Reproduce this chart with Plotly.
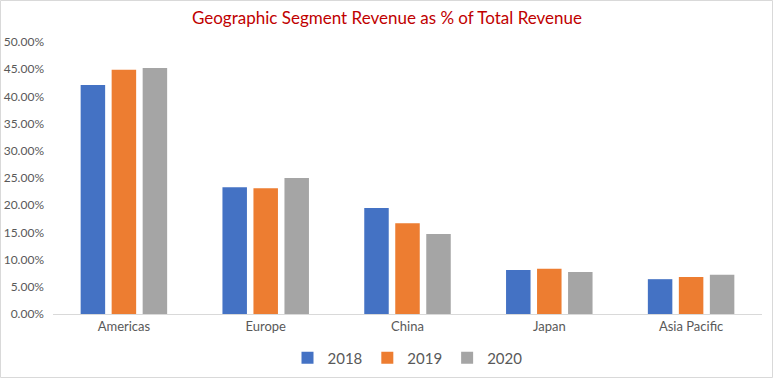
import plotly.graph_objects as go

regions = ["Americas", "Europe", "China", "Japan", "Asia Pacific"]
years = ["2018", "2019", "2020"]
rev_2018 = [0.421, 0.233, 0.195, 0.081, 0.064]
rev_2019 = [0.449, 0.231, 0.167, 0.083, 0.068]
rev_2020 = [0.452, 0.250, 0.147, 0.077, 0.072]
colors = ["#4472C4", "#ED7D31", "#A5A5A5"]

fig = go.Figure()
for name, vals, c in zip(years, [rev_2018, rev_2019, rev_2020], colors):
    fig.add_trace(go.Bar(name=name, x=regions, y=vals, marker=dict(color=c, line=dict(width=0))))

W, H = 774, 379
ml, mr, mt, mb = 53, 12, 42, 65
pw = W - ml - mr
ph = H - mt - mb

fig.update_layout(
    width=W, height=H,
    margin=dict(l=ml, r=mr, t=mt, b=mb, autoexpand=False),
    paper_bgcolor="white", plot_bgcolor="white",
    font=dict(family="Lato, Open Sans, sans-serif", color="#595959"),
    title=dict(text="Geographic Segment Revenue as % of Total Revenue",
               x=0.5, xanchor="center", y=1 - 18 / H, yanchor="middle",
               font=dict(size=17, color="#C00000")),
    barmode="group", bargap=0.344, bargroupgap=0.21,
    legend=dict(orientation="h", x=0.5, xanchor="center",
                yref="container", y=1 - 358 / H, yanchor="middle",
                font=dict(size=15, color="#595959"), itemwidth=30,
                traceorder="normal"),
    xaxis=dict(showgrid=False, showline=True, linecolor="#D9D9D9", linewidth=1,
               ticks="", tickfont=dict(size=13, color="#595959")),
    yaxis=dict(range=[0, 0.5], dtick=0.05, tickformat=".2%", showgrid=False,
               showline=False, zeroline=False, ticks="", ticklabelstandoff=8,
               tickfont=dict(size=12, color="#595959")),
    shapes=[dict(type="rect", xref="paper", yref="paper",
                 x0=-(ml - 0.5) / pw, x1=1 + (mr - 1.5) / pw,
                 y0=-(mb - 1.5) / ph, y1=1 + (mt - 0.5) / ph,
                 line=dict(color="#D9D9D9", width=1), layer="below")],
)

fig.write_html("out.html", config={"displayModeBar": False},
               post_script="document.body.style.margin='0';document.body.style.padding='0';")
